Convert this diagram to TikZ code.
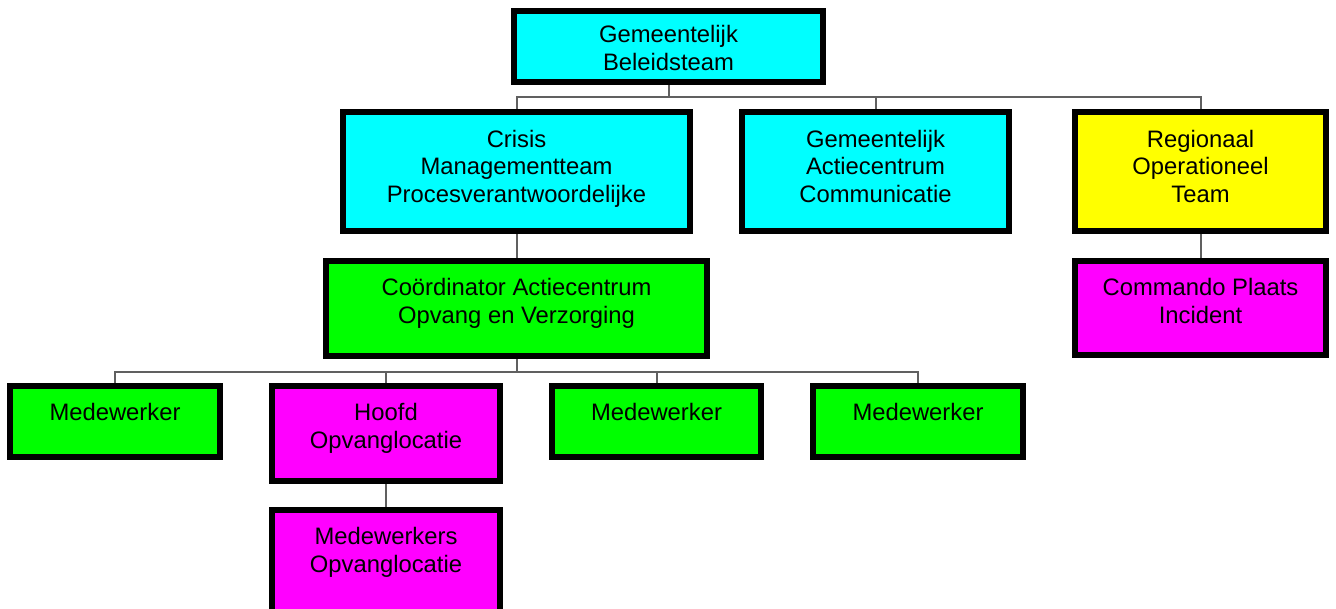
\documentclass[tikz,border=0pt]{standalone}
\usepackage{fontspec}
\setmainfont{Liberation Sans}
\definecolor{boxcyan}{RGB}{0,255,255}
\definecolor{boxyellow}{RGB}{255,255,0}
\definecolor{boxgreen}{RGB}{0,255,0}
\definecolor{boxmagenta}{RGB}{255,0,255}
\definecolor{linkgray}{RGB}{96,96,96}
\begin{document}
\begin{tikzpicture}[x=1pt, y=-1pt,
  box/.style={draw=black, line width=6pt, inner sep=0pt, outer sep=3pt},
  lbl/.style={anchor=north, align=center, inner sep=0pt,
    font=\fontsize{23.8}{27.5}\selectfont, text=black},
  link/.style={draw=linkgray, line width=2pt}]
\clip (0,0) rectangle (1336,608);
\fill[white] (0,0) rectangle (1336,608);

% bus junctions
\coordinate (bus1) at (668.5,97);
\coordinate (bus2) at (516.5,372);

% boxes, text hanging from the top edge
\path
  (668.5,46.5)  node[box, fill=boxcyan,    minimum width=309, minimum height=71,
     label={[lbl, yshift=-17.5]north:Gemeentelijk\\Beleidsteam}] (gbt) {}
  (516.5,171.5) node[box, fill=boxcyan,    minimum width=347, minimum height=119,
     label={[lbl, yshift=-21]north:Crisis\\Managementteam\\Procesverantwoordelijke}] (cmt) {}
  (875.5,171.5) node[box, fill=boxcyan,    minimum width=267, minimum height=119,
     label={[lbl, yshift=-21]north:Gemeentelijk\\Actiecentrum\\Communicatie}] (gac) {}
  (1200.5,171.5) node[box, fill=boxyellow, minimum width=251, minimum height=119,
     label={[lbl, yshift=-21]north:Regionaal\\Operationeel\\Team}] (rot) {}
  (1200.5,308)  node[box, fill=boxmagenta, minimum width=251, minimum height=94,
     label={[lbl, yshift=-20.5]north:Commando Plaats\\Incident}] (cpi) {}
  (516.5,308.5) node[box, fill=boxgreen,   minimum width=381, minimum height=95,
     label={[lbl, yshift=-20.5]north:Coördinator Actiecentrum\\Opvang en Verzorging}] (cac) {}
  (115,421.5)   node[box, fill=boxgreen,   minimum width=210, minimum height=71,
     label={[lbl, yshift=-20.5]north:Medewerker}] (m1) {}
  (386,433.5)   node[box, fill=boxmagenta, minimum width=228, minimum height=95,
     label={[lbl, yshift=-20.5]north:Hoofd\\Opvanglocatie}] (hoo) {}
  (656.5,421.5) node[box, fill=boxgreen,   minimum width=209, minimum height=71,
     label={[lbl, yshift=-20.5]north:Medewerker}] (m2) {}
  (918,421.5)   node[box, fill=boxgreen,   minimum width=210, minimum height=71,
     label={[lbl, yshift=-20.5]north:Medewerker}] (m3) {}
  (386,563.5)   node[box, fill=boxmagenta, minimum width=228, minimum height=107,
     label={[lbl, yshift=-20.5]north:Medewerkers\\Opvanglocatie}] (mow) {};

% connectors, ending at the outer edge of the borders
\draw[link] (gbt.south) -- (bus1);
\draw[link] (cmt.north) |- (bus1);
\draw[link] (gac.north) |- (bus1);
\draw[link] (rot.north) |- (bus1);
\draw[link] (cmt.south) -- (cac.north);
\draw[link] (rot.south) -- (cpi.north);
\draw[link] (cac.south) -- (bus2);
\draw[link] (m1.north) |- (bus2);
\draw[link] (hoo.north) |- (bus2);
\draw[link] (m2.north) |- (bus2);
\draw[link] (m3.north) |- (bus2);
\draw[link] (hoo.south) -- (mow.north);
\end{tikzpicture}
\end{document}
